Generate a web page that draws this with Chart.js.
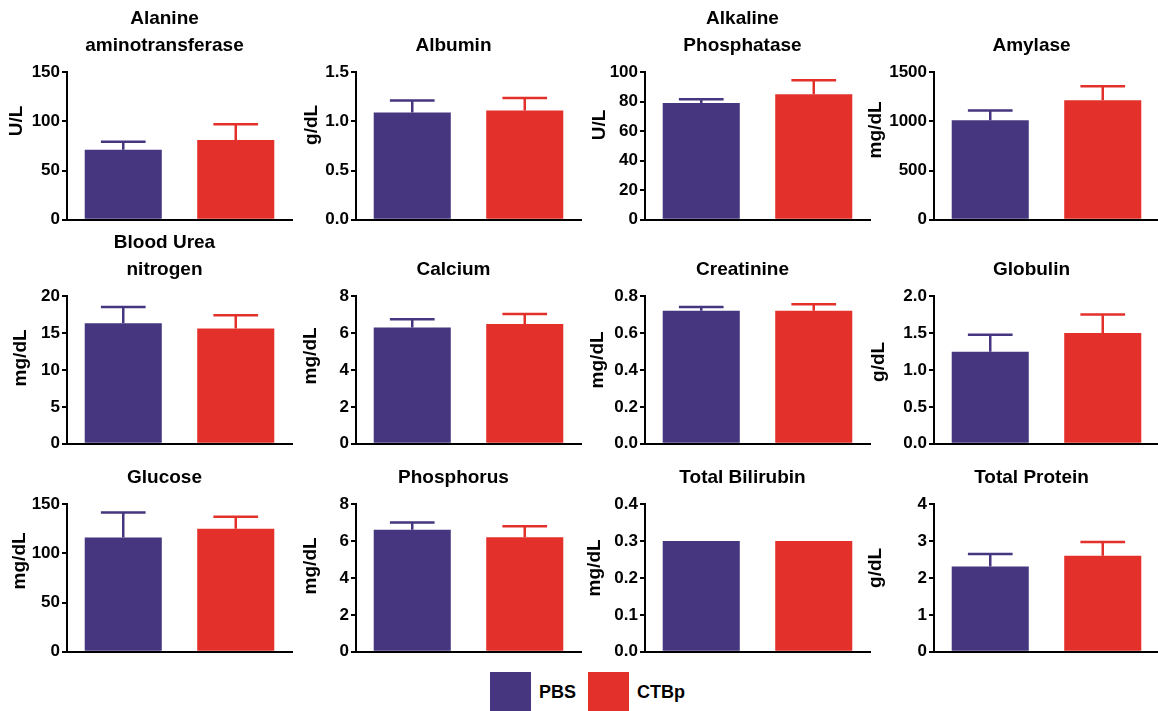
<!DOCTYPE html>
<html><head><meta charset="utf-8">
<script src="https://cdn.jsdelivr.net/npm/chart.js@4.4.1/dist/chart.umd.min.js"></script>
<style>
html,body{margin:0;padding:0;background:#fff;}
body{width:1158px;height:711px;overflow:hidden;position:relative;font-family:"Liberation Sans",Arial,sans-serif;}
canvas{position:absolute;}
.lb{position:absolute;width:41px;height:39px;}
.lt{position:absolute;font-weight:bold;font-size:18px;line-height:20px;color:#000;}
</style></head><body>
<script>
// ---- data ----
const seriesNames = ['PBS', 'CTBp'];
const seriesColors = ['#46367f', '#e3302a'];
const panelTitles = [
  ['Alanine', 'aminotransferase'], ['', 'Albumin'], ['Alkaline', 'Phosphatase'], ['', 'Amylase'],
  ['Blood Urea', 'nitrogen'], ['', 'Calcium'], ['', 'Creatinine'], ['', 'Globulin'],
  ['', 'Glucose'], ['', 'Phosphorus'], ['', 'Total Bilirubin'], ['', 'Total Protein']
];
const units = ['U/L', 'g/dL', 'U/L', 'mg/dL', 'mg/dL', 'mg/dL', 'mg/dL', 'g/dL', 'mg/dL', 'mg/dL', 'mg/dL', 'g/dL'];
const pbsMeans  = [71, 1.09, 79, 1010, 16.3, 6.29, 0.72, 1.245, 116, 6.6, 0.30, 2.31];
const ctbpMeans = [81, 1.11, 85, 1213, 15.6, 6.48, 0.72, 1.50, 125, 6.2, 0.30, 2.60];
const pbsSEM    = [8.3, 0.12, 2.5, 100, 2.2, 0.45, 0.02, 0.23, 25.5, 0.4, 0, 0.34];
const ctbpSEM   = [16, 0.125, 9.5, 142, 1.8, 0.55, 0.035, 0.25, 12, 0.6, 0, 0.37];
const yMax      = [150, 1.5, 100, 1500, 20, 8, 0.8, 2, 150, 8, 0.4, 4];
const yStep     = [50, 0.5, 20, 500, 5, 2, 0.2, 0.5, 50, 2, 0.1, 1];
const yDecimals = [0, 1, 0, 0, 0, 0, 1, 1, 0, 0, 1, 0];

// ---- layout (positions / styles) ----
const colAxisX = [67, 356, 645, 934];
const rowTop = [72, 296, 504];
const yTitleDx = [50, 44, 45, 58, 46, 45, 47, 55, 47, 45, 50, 58];
const yTitleDy = [-25, -21, -21, -16, -12, -14, -10, -8, -17, -12, -10, -10];
const FONT = '"Liberation Sans", Arial, sans-serif';

const errorBars = {
  id: 'errorBars',
  afterDatasetsDraw(chart, args, opts) {
    const meta = chart.getDatasetMeta(0);
    const ys = chart.scales.y;
    const ctx = chart.ctx;
    meta.data.forEach((bar, i) => {
      const e = opts.errors[i];
      if (!e) return;
      const v = chart.data.datasets[0].data[i];
      const yTop = ys.getPixelForValue(v + e);
      const half = bar.width * 0.29;
      ctx.save();
      ctx.strokeStyle = opts.colors[i];
      ctx.lineWidth = 2.5;
      ctx.beginPath();
      ctx.moveTo(bar.x, bar.y);
      ctx.lineTo(bar.x, yTop);
      ctx.moveTo(bar.x - half, yTop);
      ctx.lineTo(bar.x + half, yTop);
      ctx.stroke();
      ctx.restore();
    });
  }
};

const panelText = {
  id: 'panelText',
  afterDraw(chart, args, opts) {
    const ca = chart.chartArea;
    const ctx = chart.ctx;
    ctx.save();
    ctx.fillStyle = '#000';
    ctx.textAlign = 'center';
    ctx.textBaseline = 'middle';
    // panel title
    ctx.font = 'bold 19px ' + FONT;
    const cx = (ca.left + ca.right) / 2 + opts.titleShift;
    opts.title.forEach((line, k) => {
      if (line) ctx.fillText(line, cx, 13.5 + k * 27);
    });
    // y axis title
    ctx.translate(ca.left - opts.dx, (ca.top + ca.bottom) / 2 + opts.dy);
    ctx.rotate(-Math.PI / 2);
    ctx.font = 'bold 19px ' + FONT;
    ctx.fillText(opts.unit, 0, 0);
    ctx.restore();
  }
};

const PLOT_W = 225, YW = 72, PAD_R = 4, CW = YW + PLOT_W + PAD_R, CH = 227, TITLE_H = 67;

for (let i = 0; i < 12; i++) {
  const c = i % 4, r = Math.floor(i / 4);
  const cv = document.createElement('canvas');
  cv.width = CW; cv.height = CH;
  cv.style.left = (colAxisX[c] - YW) + 'px';
  cv.style.top = (rowTop[r] - TITLE_H) + 'px';
  cv.style.width = CW + 'px'; cv.style.height = CH + 'px';
  document.body.appendChild(cv);
  const dec = yDecimals[i];
  new Chart(cv, {
    type: 'bar',
    data: {
      labels: seriesNames,
      datasets: [{
        data: [pbsMeans[i], ctbpMeans[i]],
        backgroundColor: seriesColors,
        borderWidth: 0,
        barPercentage: 0.685,
        categoryPercentage: 1
      }]
    },
    plugins: [errorBars, panelText],
    options: {
      responsive: false,
      animation: false,
      devicePixelRatio: 1,
      layout: { padding: { left: 0, right: PAD_R, top: TITLE_H, bottom: 10 } },
      plugins: {
        legend: { display: false },
        tooltip: { enabled: false },
        title: { display: false },
        errorBars: { errors: [pbsSEM[i], ctbpSEM[i]], colors: seriesColors },
        panelText: { title: panelTitles[i], titleShift: -15, unit: units[i], dx: yTitleDx[i], dy: yTitleDy[i] }
      },
      scales: {
        x: {
          ticks: { display: false },
          grid: { display: false },
          border: { display: true, color: '#000', width: 2 },
          afterFit(s) { s.height = 2; }
        },
        y: {
          min: 0, max: yMax[i],
          ticks: {
            stepSize: yStep[i],
            color: '#000',
            padding: 2,
            font: { family: FONT, size: 17, weight: 'bold' },
            callback: (v) => Number(v).toFixed(dec)
          },
          grid: { display: true, drawOnChartArea: false, drawTicks: true, tickLength: 5, color: '#000', lineWidth: 2 },
          border: { display: true, color: '#000', width: 2 },
          afterFit(s) { s.width = YW; }
        }
      }
    }
  });
}

// legend
const legendX = [490, 588];
seriesNames.forEach((name, k) => {
  const b = document.createElement('div');
  b.className = 'lb';
  b.style.left = legendX[k] + 'px';
  b.style.top = '672px';
  b.style.background = seriesColors[k];
  document.body.appendChild(b);
  const t = document.createElement('div');
  t.className = 'lt';
  t.style.left = (legendX[k] + 49) + 'px';
  t.style.top = '682px';
  t.textContent = name;
  document.body.appendChild(t);
});
</script>
</body></html>
